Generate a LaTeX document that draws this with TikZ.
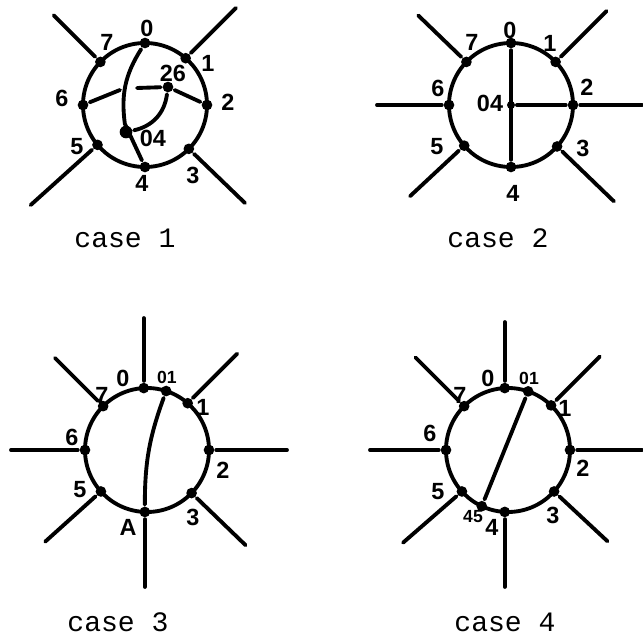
\documentclass[tikz,border=0pt]{standalone}
\usepackage{fontspec}
\setsansfont{Liberation Sans}
\setmonofont{Liberation Mono}
\usetikzlibrary{calc}

\begin{document}
\begin{tikzpicture}[
 x=0.3mm,y=0.3mm,
 line width=3.3pt,line cap=round,
 dot/.style={circle,fill,inner sep=0pt,minimum size=3.2mm},
 lbl/.style={font=\sffamily\bfseries\fontsize{20}{20}\selectfont,inner sep=0pt},
 lblsm/.style={font=\sffamily\bfseries\fontsize{15}{15}\selectfont,inner sep=0pt},
 caption/.style={font=\ttfamily\fontsize{24}{24}\selectfont,inner sep=0pt}
]
 \useasboundingbox (0,0) rectangle (643,635);

 % case 1
 \coordinate (c1) at (145,530);
 \draw (c1) circle (62);
 \foreach \n/\a in {0/90,1/49,2/0,3/-45,4/-90,5/220,6/180,7/136}
   \node[dot] (c1d\n) at ($(c1)+(\a:62)$) {};
 \foreach \n/\a/\l in {7/135/66,1/45/71,5/222/90,3/-44/78}
   \draw (c1d\n) -- ++(\a:\l) coordinate (c1e\n);
 \node[dot] (c1n26) at (168,548) {};
 \node[dot,minimum size=3.8mm] (c1n04) at (126,503) {};
 \coordinate (c1g1) at (120,545);
 \coordinate (c1g2) at (137,547);
 \draw (c1d0) to[bend right=20] (c1n04) -- (c1d4);
 \draw (c1d6) -- (c1g1);
 \draw (c1g2) -- (c1n26) -- (c1d2);
 \draw (c1n26) to[bend left=35] (c1n04);
 \foreach \t/\x/\y in {0/147/607,7/107/593,1/208/572,26/173/562,2/228/533,
     6/62/537,5/77/488,04/153/497,4/142/452,3/193/460}
   \node[lbl] (c1l\t) at (\x,\y) {\t};
 \node[caption] (cap1) at (125,397) {case 1};

 % case 2
 \coordinate (c2) at (511,530);
 \draw (c2) circle (62);
 \foreach \n/\a in {0/90,1/44,2/0,3/-42,4/-90,5/221,6/180,7/136}
   \node[dot] (c2d\n) at ($(c2)+(\a:62)$) {};
 \foreach \n/\a/\l in {7/136/67,1/45/72,6/180/72,2/0/69,5/223/74,3/-44/79}
   \draw (c2d\n) -- ++(\a:\l) coordinate (c2e\n);
 \node[dot,minimum size=2.4mm] (c2n04) at (c2) {};
 \draw (c2d0) -- (c2d4);
 \draw (c2n04) -- (c2d2);
 \foreach \t/\x/\y in {0/510/605,7/472/593,1/550/592,6/438/547,2/587/548,
     04/490/532,5/437/488,3/583/487,4/513/442}
   \node[lbl] (c2l\t) at (\x,\y) {\t};
 \node[caption] (cap2) at (498,397) {case 2};

 % case 3
 \coordinate (c3) at (147,185);
 \draw (c3) circle (62);
 \foreach \n/\a in {0/93,01/72,1/49,2/0,3/-44,A/268,5/222,6/180,7/135}
   \node[dot] (c3d\n) at ($(c3)+(\a:62)$) {};
 \foreach \n/\a/\l in {0/90/70,1/45/70,2/0/78,3/-44/75,A/-90/75,5/222/75,6/180/74,7/135/68}
   \draw (c3d\n) -- ++(\a:\l) coordinate (c3e\n);
 \draw (c3d01) to[bend right=10] (c3dA);
 \foreach \t/\x/\y in {0/123/257,7/102/240,1/203/228,6/72/198,2/223/165,
     5/80/145,3/193/118,A/128/108}
   \node[lbl] (c3l\t) at (\x,\y) {\t};
 \node[lblsm] (c3l01) at (167,258) {01};
 \node[caption] (cap3) at (118,13) {case 3};

 % case 4
 \coordinate (c4) at (508,185);
 \draw (c4) circle (62);
 \foreach \n/\a in {0/93,01/71,1/46,2/0,3/-42,4/267,45/245,5/222,6/180,7/135}
   \node[dot] (c4d\n) at ($(c4)+(\a:62)$) {};
 \foreach \n/\a/\l in {0/90/66,1/45/69,2/0/72,3/-43/73,4/-90/75,5/221/78,6/180/76,7/135/69}
   \draw (c4d\n) -- ++(\a:\l) coordinate (c4e\n);
 \draw (c4d01) -- (c4d45);
 \foreach \t/\x/\y in {0/488/257,7/460/240,1/565/227,6/430/202,2/583/167,
     5/438/143,4/492/108,3/553/120}
   \node[lbl] (c4l\t) at (\x,\y) {\t};
 \node[lblsm] (c4l01) at (529,257) {01};
 \node[lblsm] (c4l45) at (473,118) {45};
 \node[caption] (cap4) at (505,13) {case 4};
\end{tikzpicture}
\end{document}
